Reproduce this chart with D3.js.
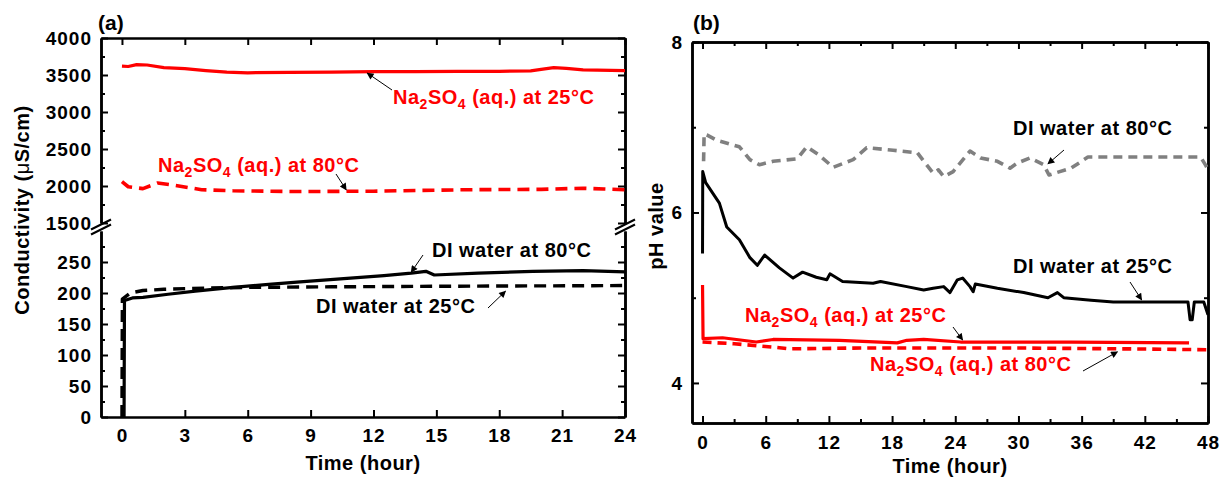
<!DOCTYPE html>
<html>
<head>
<meta charset="utf-8">
<script src="https://cdn.jsdelivr.net/npm/d3@7"></script>
<style>
  body { margin: 0; background: #fff; }
  svg { display: block; font-family: "Liberation Sans", Arial, sans-serif; font-weight: bold; }
  .tick text { font-size: 19px; font-weight: bold; letter-spacing: 1px; fill: #000; }
</style>
</head>
<body>
<svg id="chart" width="1222" height="484"></svg>
<script>
// Panel (a): conductivity, [hour, µS/cm]
const naAt25Cond = [[0,3620],[0.3,3615],[0.7,3640],[1.2,3635],[2,3600],[3,3585],[4,3560],[5,3540],[6,3530],[8,3535],[10,3540],[12,3545],[14,3545],[16,3548],[18,3550],[19.5,3555],[20,3575],[20.6,3600],[21.2,3590],[22,3570],[24,3560]];
const naAt80Cond = [[0,2060],[0.3,1990],[1,1965],[1.7,2040],[2.5,2010],[3.8,1950],[5.3,1935],[8.5,1925],[12,1930],[16.5,1950],[20,1955],[22,1970],[23,1960],[24,1950]];
const diAt80Cond = [[0.1,0],[0.12,188],[0.5,192],[1,193],[2.2,198],[3.5,203],[5.3,209],[7,214],[8.5,218],[10.9,224],[12.5,228],[13.8,232],[14.5,235],[14.9,229],[17,232],[19.6,235],[22,236],[24,234]];
const diAt25Cond = [[0,0],[0.02,190],[0.4,200],[1,204],[2,206],[4,208],[6,209],[10,210],[16,211],[24,212]];

// Panel (b): pH, [hour, pH]
const diAt80Ph = [[0.1,6.6],[0.15,6.92],[0.4,6.91],[1.3,6.85],[3.5,6.77],[4.5,6.62],[5.4,6.56],[6.7,6.6],[9,6.63],[9.9,6.77],[11.1,6.67],[12.4,6.53],[14.3,6.62],[15.6,6.76],[18.1,6.73],[20.4,6.7],[21.9,6.46],[22.4,6.5],[22.9,6.42],[23.8,6.48],[25.4,6.72],[26.4,6.64],[28,6.6],[29.2,6.52],[29.9,6.58],[31.1,6.64],[32.4,6.56],[32.9,6.44],[35,6.52],[36.6,6.65],[38.1,6.65],[42,6.65],[47.3,6.65],[47.8,6.55],[48,6.5]];
const diAt25Ph = [[0,5.52],[0.02,6.48],[0.3,6.35],[1.6,6.11],[2.3,5.83],[3.5,5.68],[4.5,5.47],[5.2,5.38],[5.9,5.5],[7.3,5.35],[8.6,5.23],[9.5,5.3],[10.8,5.24],[11.8,5.21],[12.1,5.28],[13.3,5.19],[16.2,5.17],[16.9,5.19],[19.4,5.13],[21,5.09],[21.9,5.11],[22.9,5.13],[23.5,5.06],[24.2,5.21],[24.7,5.23],[25.4,5.13],[25.7,5.07],[25.9,5.16],[28,5.11],[30.5,5.06],[32.8,5],[33.7,5.06],[34.3,5],[36.9,4.97],[39,4.95],[46.1,4.95],[46.3,4.74],[46.5,4.74],[46.7,4.95],[47.6,4.95],[48,4.8]];
const naAt25Ph = [[0,5.15],[0.05,4.52],[1.9,4.53],[5.1,4.48],[6.7,4.51],[13,4.5],[18.5,4.47],[19.4,4.5],[21,4.51],[24.5,4.48],[35,4.48],[46.2,4.47]];
const naAt80Ph = [[0,4.48],[3,4.46],[6.7,4.42],[8.3,4.4],[15,4.41],[22.6,4.41],[30,4.41],[40,4.4],[48,4.39]];

// Tick labels
const condUpperTicks = [1500, 2000, 2500, 3000, 3500, 4000];
const condLowerTicks = [0, 50, 100, 150, 200, 250];
const hourTicksA = [0, 3, 6, 9, 12, 15, 18, 21, 24];
const hourTicksB = [0, 6, 12, 18, 24, 30, 36, 42, 48];
const phTicks = [4, 6, 8];

const svg = d3.select("#chart");
const RED = "#f00";
const fmt = d3.format("d");

// Scales
const xA = d3.scaleLinear().domain([-1, 24]).range([101, 625]);
const yUp = d3.scaleLinear().domain([1500, 4000]).range([223, 38]);
const yLow = d3.scaleLinear().domain([0, 300]).range([417, 231]);
const xB = d3.scaleLinear().domain([-1, 48]).range([692, 1208]);
const yB = d3.scaleLinear().domain([3.53, 8]).range([423, 42]);

function styleAxis(g) {
  g.select(".domain").attr("stroke", "#000").attr("stroke-width", 2.5);
  g.selectAll(".tick line").attr("stroke", "#000").attr("stroke-width", 2);
}

function addAxis(axis, tx, ty) {
  const g = svg.append("g").attr("transform", `translate(${tx},${ty})`).call(axis);
  styleAxis(g);
  return g;
}

// Panel (a) axes
addAxis(d3.axisBottom(xA).tickValues(hourTicksA).tickFormat(fmt).tickSize(-7).tickSizeOuter(0).tickPadding(12), 0, 417);
addAxis(d3.axisTop(xA).tickValues(hourTicksA).tickSize(-7).tickSizeOuter(0).tickFormat(""), 0, 38);
addAxis(d3.axisLeft(yUp).tickValues(condUpperTicks).tickFormat(fmt).tickSize(-7).tickSizeOuter(0).tickPadding(9), 101, 0);
addAxis(d3.axisLeft(yUp).tickValues(d3.range(1750, 4000, 500)).tickSize(-4).tickSizeOuter(0).tickFormat(""), 101, 0);
addAxis(d3.axisLeft(yLow).tickValues(condLowerTicks).tickFormat(fmt).tickSize(-7).tickSizeOuter(0).tickPadding(9), 101, 0);
addAxis(d3.axisLeft(yLow).tickValues(d3.range(25, 300, 50)).tickSize(-4).tickSizeOuter(0).tickFormat(""), 101, 0);
addAxis(d3.axisRight(yUp).tickValues(condUpperTicks).tickSize(-7).tickSizeOuter(0).tickFormat(""), 625, 0);
addAxis(d3.axisRight(yUp).tickValues(d3.range(1750, 4000, 500)).tickSize(-4).tickSizeOuter(0).tickFormat(""), 625, 0);
addAxis(d3.axisRight(yLow).tickValues(condLowerTicks).tickSize(-7).tickSizeOuter(0).tickFormat(""), 625, 0);
addAxis(d3.axisRight(yLow).tickValues(d3.range(25, 300, 50)).tickSize(-4).tickSizeOuter(0).tickFormat(""), 625, 0);

// axis break marks
[101, 625].forEach(ax => {
  const yb = (yUp(1500) + yLow(300)) / 2;
  [-2.5, 2.5].forEach(off => {
    svg.append("line")
      .attr("x1", ax - 10).attr("y1", yb + off + 5)
      .attr("x2", ax + 10).attr("y2", yb + off - 5)
      .attr("stroke", "#000").attr("stroke-width", 2);
  });
});

// Panel (b) axes
addAxis(d3.axisBottom(xB).tickValues(hourTicksB).tickFormat(fmt).tickSize(-7).tickSizeOuter(0).tickPadding(13), 0, 423);
addAxis(d3.axisBottom(xB).tickValues(d3.range(3, 48, 6)).tickSize(-4).tickSizeOuter(0).tickFormat(""), 0, 423);
addAxis(d3.axisTop(xB).tickValues(hourTicksB).tickSize(-7).tickSizeOuter(0).tickFormat(""), 0, 42);
addAxis(d3.axisTop(xB).tickValues(d3.range(3, 48, 6)).tickSize(-4).tickSizeOuter(0).tickFormat(""), 0, 42);
addAxis(d3.axisLeft(yB).tickValues(phTicks).tickFormat(fmt).tickSize(-7).tickSizeOuter(0).tickPadding(9), 692, 0);
addAxis(d3.axisLeft(yB).tickValues([5, 7]).tickSize(-4).tickSizeOuter(0).tickFormat(""), 692, 0);
addAxis(d3.axisRight(yB).tickValues(phTicks).tickSize(-7).tickSizeOuter(0).tickFormat(""), 1208, 0);
addAxis(d3.axisRight(yB).tickValues([5, 7]).tickSize(-4).tickSizeOuter(0).tickFormat(""), 1208, 0);

// Series
function drawLine(data, x, y, color, dash, width) {
  svg.append("path")
    .datum(data)
    .attr("fill", "none")
    .attr("stroke", color)
    .attr("stroke-width", width)
    .attr("stroke-linejoin", "round")
    .attr("stroke-dasharray", dash)
    .attr("d", d3.line().x(d => x(d[0])).y(d => y(d[1])));
}

drawLine(naAt25Cond, xA, yUp, RED, null, 3.2);
drawLine(naAt80Cond, xA, yUp, RED, "12,7", 3.6);
drawLine(diAt25Cond, xA, yLow, "#000", "12,7", 3.4);
drawLine(diAt80Cond, xA, yLow, "#000", null, 3.2);

drawLine(diAt80Ph, xB, yB, "#808080", "9,6", 3.6);
drawLine(diAt25Ph, xB, yB, "#000", null, 3);
drawLine(naAt80Ph, xB, yB, RED, "9,6", 3.6);
drawLine(naAt25Ph, xB, yB, RED, null, 3.2);

// Arrow marker
svg.append("defs").append("marker")
  .attr("id", "arrow")
  .attr("viewBox", "0 0 10 10")
  .attr("refX", 9).attr("refY", 5)
  .attr("markerWidth", 9).attr("markerHeight", 7)
  .attr("markerUnits", "userSpaceOnUse")
  .attr("orient", "auto")
  .append("path").attr("d", "M0,0 L10,5 L0,10 Z").attr("fill", "#000");

function arrow(x1, y1, x2, y2) {
  svg.append("line")
    .attr("x1", x1).attr("y1", y1).attr("x2", x2).attr("y2", y2)
    .attr("stroke", "#000").attr("stroke-width", 1)
    .attr("marker-end", "url(#arrow)");
}

// Text labels with subscripts for Na2SO4
function naLabel(x, y, temp) {
  const t = svg.append("text").attr("x", x).attr("y", y)
    .attr("fill", RED).style("font-size", "20px").style("letter-spacing", "0.5px");
  t.append("tspan").text("Na");
  t.append("tspan").attr("dy", 5).style("font-size", "14px").text("2");
  t.append("tspan").attr("dy", -5).text("SO");
  t.append("tspan").attr("dy", 5).style("font-size", "14px").text("4");
  t.append("tspan").attr("dy", -5).text(` (aq.) at ${temp}°C`);
}

function blackLabel(x, y, txt) {
  svg.append("text").attr("x", x).attr("y", y)
    .attr("fill", "#000").style("font-size", "20px").style("letter-spacing", "0.5px")
    .text(txt);
}

// Panel (a) annotations
naLabel(393, 104, 25);
arrow(392, 90, xA(11.7), yUp(3540) + 1);
naLabel(158, 172, 80);
arrow(336, 174, xA(10.7), yUp(1935) - 1);
blackLabel(432, 257, "DI water at 80°C");
arrow(423, 255, xA(13.8), yLow(232) - 1);
blackLabel(316, 313, "DI water at 25°C");
arrow(488, 308, xA(18.3), yLow(211) + 5);

// Panel (b) annotations
blackLabel(1013, 135, "DI water at 80°C");
arrow(1064, 150, xB(32.8), yB(6.5) - 6);
blackLabel(1013, 273, "DI water at 25°C");
arrow(1130, 282, xB(41.7), yB(4.95) - 2);
naLabel(745, 322, 25);
arrow(953, 327, xB(24.7), yB(4.48) - 2);
naLabel(870, 371, 80);
arrow(1083, 371, xB(39.4), yB(4.4) + 3);

// Panel letters
svg.append("text").attr("x", 98).attr("y", 30).style("font-size", "21px").text("(a)");
svg.append("text").attr("x", 693).attr("y", 30).style("font-size", "21px").text("(b)");

// Axis titles
svg.append("text").attr("x", 363).attr("y", 470).attr("text-anchor", "middle")
  .style("font-size", "20px").style("letter-spacing", "0.5px").text("Time (hour)");
svg.append("text").attr("x", 950).attr("y", 473).attr("text-anchor", "middle")
  .style("font-size", "20px").style("letter-spacing", "0.5px").text("Time (hour)");

const condTitle = svg.append("text")
  .attr("transform", "translate(29,210) rotate(-90)")
  .attr("text-anchor", "middle")
  .style("font-size", "20px").style("letter-spacing", "0.5px");
condTitle.append("tspan").text("Conductivity (");
condTitle.append("tspan").style("font-weight", "normal").text("μ");
condTitle.append("tspan").text("S/cm)");

svg.append("text")
  .attr("transform", "translate(663,226) rotate(-90)")
  .attr("text-anchor", "middle")
  .style("font-size", "20px").style("letter-spacing", "0.5px")
  .text("pH value");
</script>
</body>
</html>
